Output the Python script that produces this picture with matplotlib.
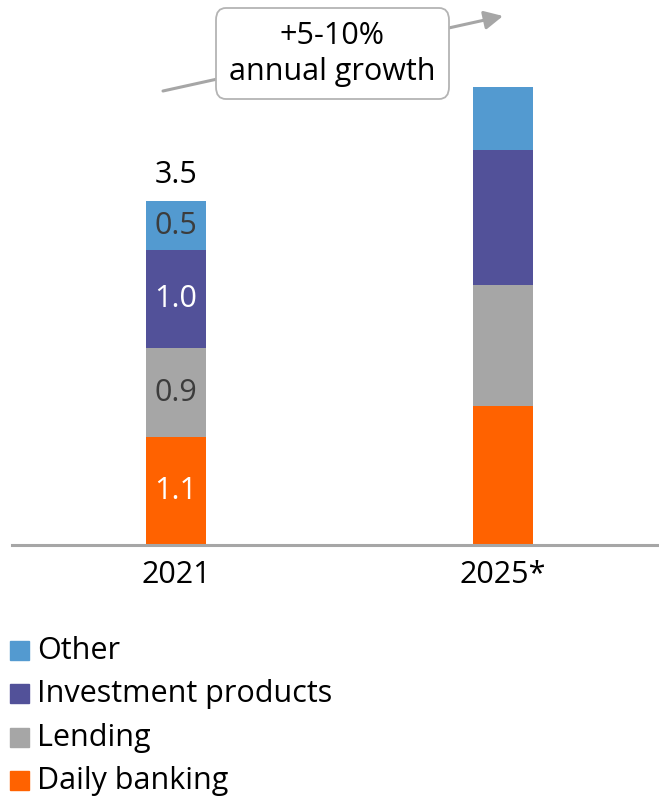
import matplotlib
matplotlib.use("Agg")
import matplotlib.pyplot as plt
from matplotlib.patches import Rectangle, FancyBboxPatch

plt.rcParams["font.family"] = ["Open Sans", "DejaVu Sans"]

# Revenue pool by product line (EUR bn), 2021 actual vs 2025 forecast
years = ["2021", "2025*"]
series = ["Daily banking", "Lending", "Investment products", "Other"]
daily_banking = [1.1, 1.41]
lending = [0.9, 1.23]
investment = [1.0, 1.38]
other = [0.5, 0.64]
labels_2021 = ["1.1", "0.9", "1.0", "0.5"]
total_2021 = 3.5

colors = ["#ff6200", "#a6a6a6", "#525199", "#539ad0"]
label_colors = ["white", "#3c3c3c", "white", "#3c3c3c"]
FS = 22

W, H = 659, 799
fig = plt.figure(figsize=(W / 100, H / 100), dpi=100)
ax = fig.add_axes([12 / W, (H - 545) / H, (W - 12) / W, 545 / H])

x = [0, 1]
width = 0.183
bottoms = [0.0, 0.0]
stack = [daily_banking, lending, investment, other]
for vals, col, name in zip(stack, colors, series):
    ax.bar(x, vals, width, bottom=bottoms, color=col, label=name, zorder=2)
    bottoms = [b + v for b, v in zip(bottoms, vals)]

# segment labels on the 2021 bar only
b = 0.0
for vals, txt, tc in zip(stack, labels_2021, label_colors):
    ax.text(x[0], b + vals[0] / 2, txt, ha="center", va="center",
            fontsize=FS, color=tc, zorder=3)
    b += vals[0]
ax.annotate("%.1f" % total_2021, (x[0], total_2021), xytext=(0, 13),
            textcoords="offset points", ha="center", va="baseline",
            fontsize=FS, color="black")

ax.set_xlim(-0.5015, 1.477)
ax.set_ylim(0, 545 / 98.3)
ax.set_xticks(x)
ax.set_xticklabels(years, fontsize=FS)
ax.tick_params(axis="x", length=0, pad=11)
ax.set_yticks([])
for s in ["top", "left", "right"]:
    ax.spines[s].set_visible(False)
ax.spines["bottom"].set_color("#a6a6a6")
ax.spines["bottom"].set_linewidth(2.2)
ax.patch.set_alpha(0)

# growth arrow behind the callout box
ax.annotate("", xy=(503 / W, 1 - 16 / H), xytext=(163 / W, 1 - 91 / H),
            xycoords="figure fraction", textcoords="figure fraction",
            arrowprops=dict(arrowstyle="-|>", color="#a6a6a6", lw=2.2,
                            mutation_scale=28, shrinkA=0, shrinkB=0),
            zorder=4)
box = FancyBboxPatch((216 / W, 1 - 99 / H), 233 / W, 91 / H,
                     boxstyle="round,pad=0,rounding_size=0.015",
                     transform=fig.transFigure, facecolor="white",
                     edgecolor="#b4b4b4", lw=1.3, zorder=5)
fig.patches.append(box)
fig.text(332 / W, 1 - 54 / H, "+5-10%\nannual growth", ha="center",
         va="center", fontsize=FS, linespacing=1.25, zorder=6)

# legend, top entry first
rows = [650, 693, 737, 780]
for yy, name, col in zip(rows, series[::-1], colors[::-1]):
    fig.patches.append(Rectangle((10 / W, 1 - (yy + 9.5) / H), 19 / W, 19 / H,
                                 transform=fig.transFigure, color=col))
    fig.text(37 / W, 1 - (yy + 1) / H, name, ha="left", va="center",
             fontsize=FS)

fig.savefig("out.png", dpi=100)
